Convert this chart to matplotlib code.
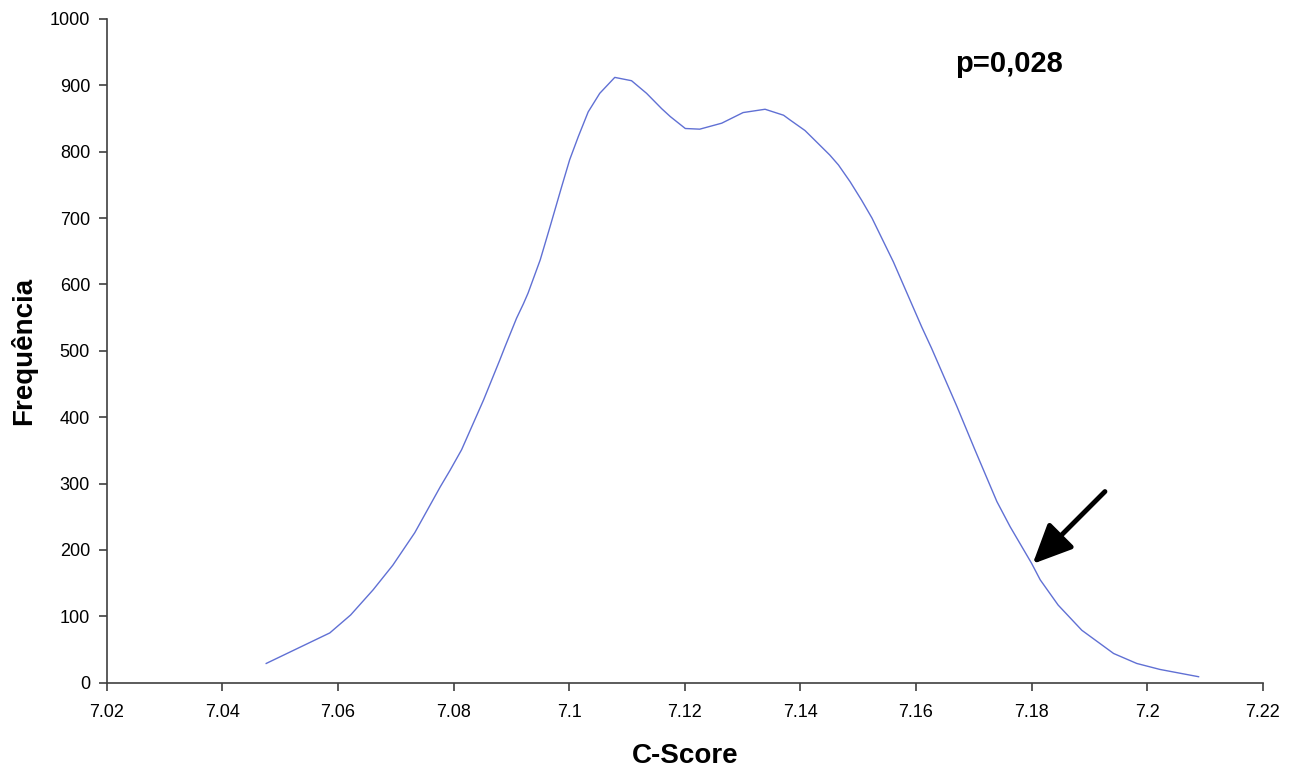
import matplotlib.pyplot as plt
from matplotlib.ticker import FormatStrFormatter, MultipleLocator

# C-Score distribution
c_score = [7.0476, 7.0586, 7.0622, 7.0661, 7.0695, 7.0733, 7.0777, 7.0794,
           7.0814, 7.0852, 7.0880, 7.0889, 7.0909, 7.0921, 7.0929, 7.0950,
           7.0967, 7.0987, 7.1001, 7.1016, 7.1033, 7.1053, 7.1079, 7.1108,
           7.1134, 7.1160, 7.1175, 7.1201, 7.1226, 7.1264, 7.1301, 7.1339,
           7.1371, 7.1382, 7.1408, 7.1422, 7.1451, 7.1466, 7.1486, 7.1506,
           7.1524, 7.1561, 7.1610, 7.1627, 7.1671, 7.1702, 7.1740, 7.1763,
           7.1800, 7.1815, 7.1846, 7.1887, 7.1942, 7.1982, 7.2022, 7.2089]
frequencia = [29, 75, 102, 140, 177, 226, 295, 320,
              351, 426, 486, 506, 549, 571, 587, 637,
              687, 747, 788, 823, 860, 888, 912, 907,
              888, 865, 853, 835, 834, 843, 859, 864,
              855, 848, 832, 820, 795, 780, 755, 727,
              700, 634, 536, 504, 416, 351, 273, 235,
              180, 155, 117, 79, 44, 29, 20, 9]

p_label = "p=0,028"

fig = plt.figure(figsize=(13.01, 7.75), dpi=100)
ax = fig.add_axes([0.082, 0.1191, 0.8886, 0.8564])

ax.plot(c_score, frequencia, color='#6070d4', linewidth=1.0)

ax.set_xlim(7.02, 7.22)
ax.set_ylim(0, 1000)
ax.xaxis.set_major_locator(MultipleLocator(0.02))
ax.yaxis.set_major_locator(MultipleLocator(100))
ax.xaxis.set_major_formatter(FormatStrFormatter('%g'))

for side in ['top', 'right']:
    ax.spines[side].set_visible(False)
for side in ['left', 'bottom']:
    ax.spines[side].set_color('#404040')
    ax.spines[side].set_linewidth(1.2)

ax.tick_params(axis='both', direction='out', length=6, width=1.2,
               color='#404040', labelsize=13)
ax.tick_params(axis='x', pad=9)
ax.tick_params(axis='y', pad=6)

for lbl in ax.get_xticklabels() + ax.get_yticklabels():
    lbl.set_family('Liberation Sans')

ax.set_xlabel("C-Score", fontsize=20, fontweight='bold',
              family='Liberation Sans', labelpad=16)
ax.set_ylabel("Frequência", fontsize=20, fontweight='bold',
              family='Liberation Sans', labelpad=9)

ax.text(7.1761, 932, p_label, ha='center', va='center', fontsize=21,
        fontweight='bold', family='Liberation Sans')

ax.annotate("", xy=(7.1802, 179), xytext=(7.1927, 288),
            arrowprops=dict(arrowstyle='-|>,head_width=0.55,head_length=1.2',
                            lw=3.5, color='black', mutation_scale=20,
                            shrinkA=0, shrinkB=0))

fig.savefig("out.png", dpi=100)
